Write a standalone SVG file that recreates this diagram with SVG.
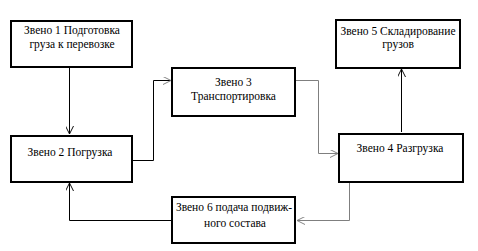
<svg xmlns="http://www.w3.org/2000/svg" width="478" height="251" viewBox="0 0 478 251">
<style>
.box{fill:#fff;stroke:#000;stroke-width:2}
.t{font-family:"Liberation Serif","Times New Roman",serif;font-size:11.5px;fill:#000;text-anchor:middle}
.c{fill:none;stroke:#000;stroke-width:1}
.g{stroke:#7f7f7f}
</style>
<defs>
<marker id="ah" viewBox="0 0 10 10" refX="10" refY="5" markerWidth="8" markerHeight="8" markerUnits="userSpaceOnUse" orient="auto">
<path d="M0,0 L10,5 L0,10" fill="none" stroke="#000" stroke-width="1.2"/>
</marker>
<marker id="ahg" viewBox="0 0 10 10" refX="10" refY="5" markerWidth="8" markerHeight="8" markerUnits="userSpaceOnUse" orient="auto">
<path d="M0,0 L10,5 L0,10" fill="none" stroke="#7f7f7f" stroke-width="1.2"/>
</marker>
</defs>
<rect width="478" height="251" fill="#fff"/>
<g id="connectors">
<path class="c" d="M69.5,68 V134" marker-end="url(#ah)"/>
<path class="c" d="M132,160.5 H153.5 V80.5 H171" marker-end="url(#ahg)"/>
<path class="c g" d="M295,80.5 H318.5 V153.5 H338" marker-end="url(#ahg)"/>
<path class="c" d="M401.5,132 V69" marker-end="url(#ah)"/>
<path class="c g" d="M349.5,182 V220.5 H297" marker-end="url(#ahg)"/>
<path class="c" d="M172,220.5 H69.5 V183" marker-end="url(#ah)"/>
</g>
<g id="n1">
<rect class="box" x="11" y="21" width="121" height="46"/>
<text class="t" x="72" y="34">Звено 1 Подготовка</text>
<text class="t" x="72" y="48">груза к перевозке</text>
</g>
<g id="n2">
<rect class="box" x="11" y="136" width="121" height="46"/>
<text class="t" x="70" y="156">Звено 2 Погрузка</text>
</g>
<g id="n3">
<rect class="box" x="172" y="68" width="123" height="48"/>
<text class="t" x="233.5" y="86">Звено 3</text>
<text class="t" x="233.5" y="100">Транспортировка</text>
</g>
<g id="n4">
<rect class="box" x="339" y="134" width="124" height="48"/>
<text class="t" x="400" y="152">Звено 4 Разгрузка</text>
</g>
<g id="n5">
<rect class="box" x="336" y="20" width="124" height="48"/>
<text class="t" x="398" y="35">Звено 5 Складирование</text>
<text class="t" x="398" y="48">грузов</text>
</g>
<g id="n6">
<rect class="box" x="172" y="197" width="123" height="46"/>
<text class="t" x="234" y="211">Звено 6 подача подвиж-</text>
<text class="t" x="235" y="227">ного состава</text>
</g>
</svg>
